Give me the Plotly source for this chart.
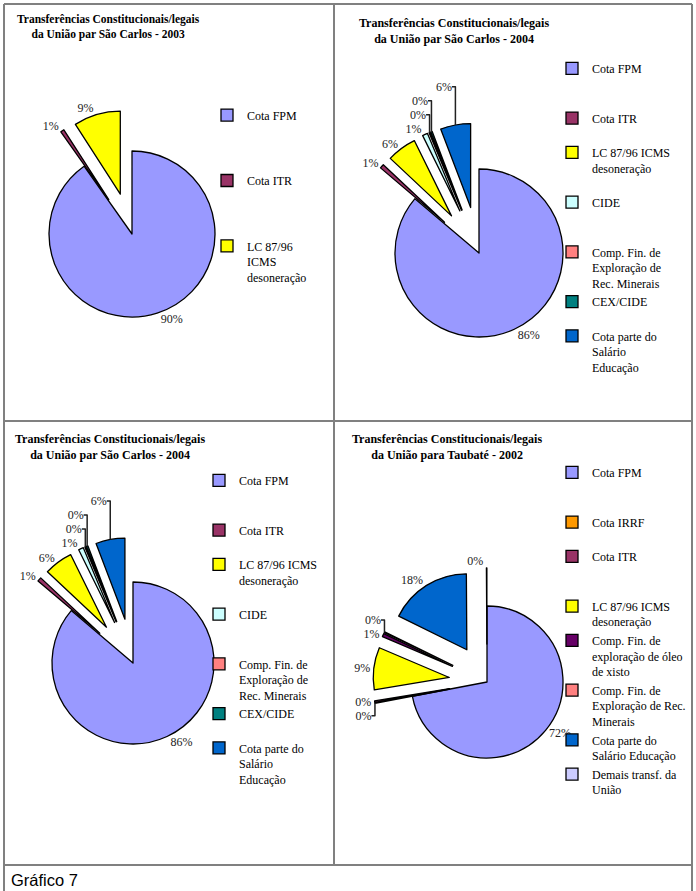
import plotly.graph_objects as go

W, H = 696, 891

# ---------------- data ----------------
cats_sc2003 = ["Cota FPM", "Cota ITR", "LC 87/96 ICMS desoneração"]
vals_sc2003 = [90.2, 0.7, 9.1]

cats_sc2004 = ["Cota FPM", "Cota ITR", "LC 87/96 ICMS desoneração", "CIDE",
               "Comp. Fin. de Exploração de Rec. Minerais", "CEX/CIDE",
               "Cota parte do Salário Educação"]
vals_sc2004 = [86.2, 0.8, 5.7, 1.0, 0.2, 0.3, 5.8]

cats_tb2002 = ["Cota FPM", "Cota IRRF", "Cota ITR", "LC 87/96 ICMS desoneração",
               "Comp. Fin. de exploração de óleo de xisto",
               "Comp. Fin. de Exploração de Rec. Minerais",
               "Cota parte do Salário Educação", "Demais transf. da União"]
vals_tb2002 = [72.0, 0.1, 0.3, 9.0, 0.7, 0.2, 17.6, 0.1]

titles = [
    "Transferências Constitucionais/legais<br>da União par São Carlos - 2003",
    "Transferências Constitucionais/legais<br>da União par São Carlos - 2004",
    "Transferências Constitucionais/legais<br>da União par São Carlos - 2004",
    "Transferências Constitucionais/legais<br>da União para Taubaté - 2002",
]
caption = "Gráfico 7"

# ---------------- styles ----------------
COLORS = {
    "Cota FPM": "#9999FF",
    "Cota IRRF": "#FF9900",
    "Cota ITR": "#993366",
    "LC 87/96 ICMS desoneração": "#FFFF00",
    "CIDE": "#CCFFFF",
    "Comp. Fin. de Exploração de Rec. Minerais": "#FF8080",
    "CEX/CIDE": "#008080",
    "Cota parte do Salário Educação": "#0066CC",
    "Comp. Fin. de exploração de óleo de xisto": "#660066",
    "Demais transf. da União": "#CCCCFF",
}

WRAP1 = {"LC 87/96 ICMS desoneração": "LC 87/96<br>ICMS<br>desoneração"}
WRAP2 = {
    "LC 87/96 ICMS desoneração": "LC 87/96 ICMS<br>desoneração",
    "Comp. Fin. de Exploração de Rec. Minerais": "Comp. Fin. de<br>Exploração de<br>Rec. Minerais",
    "Cota parte do Salário Educação": "Cota parte do<br>Salário<br>Educação",
}
WRAP4 = {
    "LC 87/96 ICMS desoneração": "LC 87/96 ICMS<br>desoneração",
    "Comp. Fin. de exploração de óleo de xisto": "Comp. Fin. de<br>exploração de óleo<br>de xisto",
    "Comp. Fin. de Exploração de Rec. Minerais": "Comp. Fin. de<br>Exploração de Rec.<br>Minerais",
    "Cota parte do Salário Educação": "Cota parte do<br>Salário Educação",
    "Demais transf. da União": "Demais transf. da<br>União",
}


def legend_labels(cats, wrap, nlines, tag):
    # trailing spaces (invisible) keep each chart's legend entries distinct
    out = []
    for c, n in zip(cats, nlines):
        t = wrap.get(c, c)
        cur = t.count("<br>") + 1
        out.append(t + "<br> " * max(0, n - cur) + " " * tag)
    return out


SERIF = "Liberation Serif, Times New Roman, serif"


def make_pie(cats, vals, wrap, nlines, pulls, cx, cy, r, legend_id, tag):
    half = r * (1 + max(pulls))
    return go.Pie(
        values=vals,
        labels=legend_labels(cats, wrap, nlines, tag),
        marker=dict(colors=[COLORS[c] for c in cats], line=dict(color="black", width=1.3)),
        pull=pulls,
        sort=False,
        direction="clockwise",
        rotation=0,
        domain=dict(x=[(cx - half) / W, (cx + half) / W],
                    y=[1 - (cy + half) / H, 1 - (cy - half) / H]),
        textposition="outside",
        texttemplate="%{percent:.0%}",
        textfont=dict(family=SERIF, size=12, color="#222"),
        legend=legend_id,
        showlegend=True,
        hoverinfo="label+percent",
    )


fig = go.Figure()
fig.add_trace(make_pie(cats_sc2003, vals_sc2003, WRAP1, [4, 4, 3],
                       [0, 0.5, 0.5], 132, 234, 83, "legend", 1))
fig.add_trace(make_pie(cats_sc2004, vals_sc2004, WRAP2, [3, 2, 3, 3, 3, 2, 3],
                       [0] + [0.55] * 6, 479, 253, 84, "legend2", 2))
fig.add_trace(make_pie(cats_sc2004, vals_sc2004, WRAP2, [3, 2, 3, 3, 3, 2, 3],
                       [0] + [0.55] * 6, 133, 663, 81, "legend3", 3))
fig.add_trace(make_pie(cats_tb2002, vals_tb2002, WRAP4, [3, 2, 3, 2, 3, 3, 2, 2],
                       [0] + [0.5] * 7, 487, 682, 76, "legend4", 4))


def leg(xpx, ypx):
    return dict(x=xpx / W, y=1 - ypx / H, xanchor="left", yanchor="top",
                bgcolor="rgba(0,0,0,0)", borderwidth=0, valign="top",
                font=dict(family=SERIF, size=12, color="black"))


# panel borders
def hline(y, x0, x1):
    return dict(type="line", xref="paper", yref="paper", x0=x0 / W, x1=x1 / W,
                y0=1 - y / H, y1=1 - y / H, line=dict(color="#808080", width=2))


def vline(x, y0, y1):
    return dict(type="line", xref="paper", yref="paper", x0=x / W, x1=x / W,
                y0=1 - y0 / H, y1=1 - y1 / H, line=dict(color="#808080", width=2))


shapes = [
    hline(4, 4, 692), hline(421, 4, 692), hline(865, 4, 692),
    vline(4, 4, 891), vline(692, 4, 891), vline(334, 4, 865),
]


def title_ann(text, xc, yc, size):
    return dict(text="<b>" + text + "</b>", x=xc / W, y=1 - yc / H, xref="paper", yref="paper",
                xanchor="center", yanchor="middle", showarrow=False, align="center",
                font=dict(family=SERIF, size=size, color="black"))


annotations = [
    title_ann(titles[0], 109, 27, 11.5),
    title_ann(titles[1], 454, 30.5, 12),
    title_ann(titles[2], 110, 447, 12),
    title_ann(titles[3], 447, 447, 12),
    dict(text=caption, x=9 / W, y=1 - 880 / H, xref="paper", yref="paper",
         xanchor="left", yanchor="middle", showarrow=False,
         font=dict(family="Liberation Sans, Arial, sans-serif", size=16.5, color="black")),
]

fig.update_layout(
    width=W, height=H,
    margin=dict(l=0, r=0, t=0, b=0, autoexpand=False),
    paper_bgcolor="white", plot_bgcolor="white",
    legend=leg(207, 100.8),
    legend2=leg(552, 54),
    legend3=leg(199, 466),
    legend4=leg(552, 458),
    shapes=shapes,
    annotations=annotations,
)

fig.write_html(
    "out.html",
    config={"displayModeBar": False},
    post_script="document.body.style.margin='0';document.body.style.overflow='hidden';",
)
